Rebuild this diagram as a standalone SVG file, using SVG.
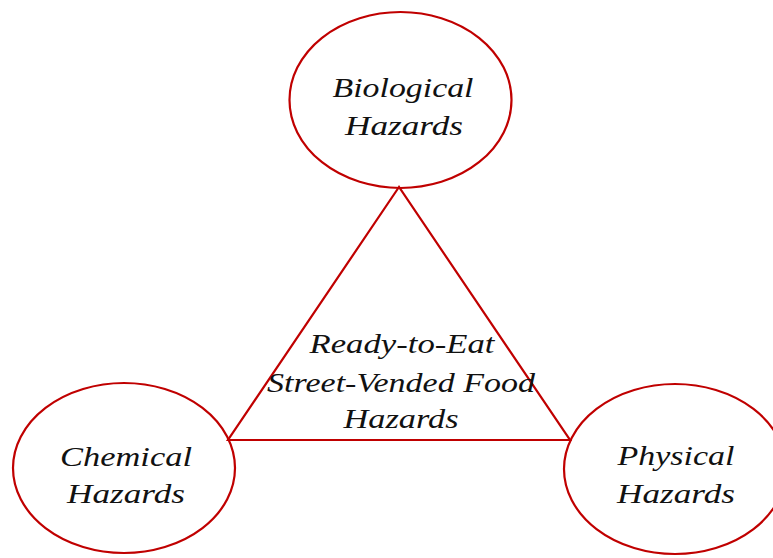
<svg xmlns="http://www.w3.org/2000/svg" width="773" height="558" viewBox="0 0 773 558">
<style>
.sh{fill:none;stroke:#C00000;stroke-width:2.2}
.t{font-family:"Liberation Serif","DejaVu Serif",serif;font-style:italic;font-size:27px;fill:#111;text-anchor:middle}
</style>
<rect width="773" height="558" fill="#fff"/>
<g id="connectors">
<polygon class="sh" points="399,187 228,440 570,440"/>
</g>
<g id="biological">
<ellipse class="sh" cx="400.5" cy="100" rx="111" ry="88"/>
<text class="t" x="403" y="97" textLength="141" lengthAdjust="spacingAndGlyphs">Biological</text>
<text class="t" x="404" y="135" textLength="118" lengthAdjust="spacingAndGlyphs">Hazards</text>
</g>
<g id="chemical">
<ellipse class="sh" cx="124" cy="468" rx="111" ry="85"/>
<text class="t" x="126" y="466" textLength="132" lengthAdjust="spacingAndGlyphs">Chemical</text>
<text class="t" x="126" y="503" textLength="118" lengthAdjust="spacingAndGlyphs">Hazards</text>
</g>
<g id="physical">
<ellipse class="sh" cx="675" cy="469" rx="111" ry="85"/>
<text class="t" x="676" y="465" textLength="117" lengthAdjust="spacingAndGlyphs">Physical</text>
<text class="t" x="676" y="503" textLength="118" lengthAdjust="spacingAndGlyphs">Hazards</text>
</g>
<g id="center">
<text class="t" x="402" y="353" textLength="185" lengthAdjust="spacingAndGlyphs">Ready-to-Eat</text>
<text class="t" x="401" y="392" textLength="268" lengthAdjust="spacingAndGlyphs">Street-Vended Food</text>
<text class="t" x="401" y="428" textLength="115" lengthAdjust="spacingAndGlyphs">Hazards</text>
</g>
</svg>
